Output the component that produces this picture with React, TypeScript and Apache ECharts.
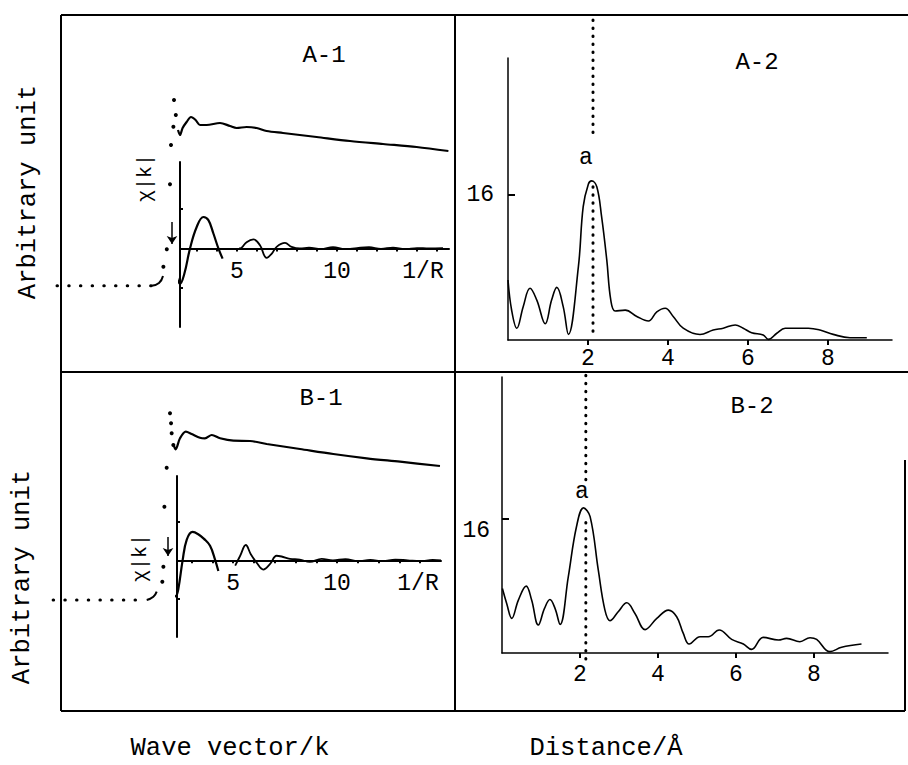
import React, { useEffect, useRef } from 'react';
import * as echarts from 'echarts';

const FONT = '"Liberation Mono", "DejaVu Sans Mono", monospace';

// ---------- A-1 (wave vector, k units) ----------
const a1Absorption = [[2.05, 20.0], [2.15, 19.5], [2.28, 20.2], [2.48, 20.8], [2.7, 21.3], [2.93, 21.0], [3.15, 20.5], [3.48, 20.5], [4.15, 20.7], [4.65, 20.4], [4.98, 20.2], [5.48, 20.3], [5.98, 20.2], [6.48, 19.9], [7.3, 19.7], [8.98, 19.3], [10.65, 18.9], [12.3, 18.6], [13.98, 18.3], [15.57, 17.9]];
const a1PreEdge = [[-4, 4.43], [0.73, 4.43]];
const a1Hook = [[0.73, 4.43], [1.1, 4.7], [1.3, 5.4]];
const a1EdgeDots = [[1.32, 6.33], [1.49, 8.07], [1.65, 14.57], [1.7, 18.5], [1.82, 20.33], [1.94, 21.5], [1.85, 23.0]];
const a1Arrow = [[1.75, 10.8], [1.75, 8.6]];
const a1ChiMain = [[1.7, 0], [1.82, -0.19], [1.98, -0.36], [2.15, -0.45], [2.37, -0.32], [2.65, 0], [2.98, 0.27], [3.32, 0.4], [3.57, 0.36], [3.82, 0.19], [4.07, 0], [4.28, -0.13]];
const a1ChiTail = [[5.1, 0], [5.23, 0.01], [5.48, 0.08], [5.82, 0.115], [6.15, 0.04], [6.48, -0.12], [6.73, -0.07], [6.98, 0.02], [7.4, 0.07], [7.73, 0.02], [8.15, 0], [8.6, 0.01], [9.2, -0.01], [9.8, 0.015], [10.4, -0.01], [11, 0.005], [11.6, 0.015], [12.2, -0.005], [12.8, 0.01], [13.4, -0.01], [14, 0.005], [14.6, 0], [15.3, 0.005]];

// ---------- B-1 ----------
const b1Absorption = [[2.16, 22.4], [2.24, 22.07], [2.45, 23.17], [2.73, 23.83], [3.01, 23.6], [3.41, 23.23], [3.65, 23.17], [3.98, 23.5], [4.38, 23.17], [5.02, 22.93], [5.82, 22.9], [6.62, 22.6], [8.22, 22.1], [9.82, 21.6], [11.43, 21.17], [13.03, 20.83], [14.95, 20.4]];
const b1PreEdge = [[-3.65, 7.0], [0.85, 7.0]];
const b1Hook = [[0.85, 7.0], [1.17, 7.33], [1.33, 7.83]];
const b1EdgeDots = [[1.6, 8.83], [1.65, 10.33], [1.7, 16.33], [1.81, 20.23], [2.13, 22.5], [2.05, 23.67], [2.02, 24.67], [1.97, 25.67]];
const b1Arrow = [[1.875, 13.3], [1.875, 11.4]];
const b1ChiMain = [[1.88, -0.01], [2.0, -0.25], [2.12, -0.42], [2.24, -0.47], [2.36, -0.38], [2.57, 0], [2.77, 0.27], [3.05, 0.37], [3.32, 0.34], [3.6, 0.28], [3.89, 0.19], [4.13, 0.01], [4.29, -0.14]];
const b1ChiTail = [[5.1, -0.07], [5.34, 0.06], [5.61, 0.2], [5.85, 0.08], [6.13, -0.03], [6.45, -0.12], [6.77, -0.05], [7.09, 0.06], [7.33, 0.05], [7.73, 0.02], [8.21, 0.01], [8.69, -0.02], [9.26, 0.02], [9.8, 0], [10.4, 0.015], [11, -0.01], [11.6, 0.005], [12.2, -0.01], [12.8, 0.01], [13.4, 0], [14, -0.01], [14.6, 0.005], [15, 0]];

// ---------- A-2 (distance, Å) ----------
const a2Rdf = [[0, 6.62], [0.09, 3.31], [0.22, 1.29], [0.38, 3.68], [0.55, 5.7], [0.72, 4.4], [0.93, 1.8], [1.09, 4.4], [1.22, 5.8], [1.38, 3.68], [1.51, 0.62], [1.76, 8.1], [1.88, 14.7], [2.01, 17.2], [2.09, 17.55], [2.22, 16.9], [2.34, 13.6], [2.47, 8.8], [2.57, 4.4], [2.68, 3.2], [2.93, 3.3], [3.22, 2.6], [3.51, 2.1], [3.72, 3.1], [3.93, 3.5], [4.13, 2.6], [4.38, 1.3], [4.8, 0.6], [5.13, 1.1], [5.38, 1.3], [5.68, 1.66], [5.88, 1.3], [6.09, 0.8], [6.38, 0.55], [6.51, 0.07], [6.72, 0.74], [6.93, 1.3], [7.51, 1.3], [7.8, 1.1], [8.13, 0.62], [8.55, 0.25], [8.97, 0.25]];
const a2Marker = [[2.125, 35.3], [2.125, 22.4], null, [2.125, 16.9], [2.125, 0.3]];
const a2PeakLabel = [[1.95, 20.1]];

// ---------- B-2 ----------
const b2Rdf = [[0.01, 7.72], [0.12, 5.93], [0.25, 4.14], [0.42, 6.33], [0.62, 8.0], [0.76, 6.33], [0.93, 3.34], [1.09, 5.33], [1.23, 6.4], [1.36, 5.33], [1.49, 3.42], [1.7, 9.1], [1.91, 15.1], [2.09, 17.35], [2.26, 16.3], [2.47, 9.9], [2.64, 5.13], [2.77, 3.86], [2.98, 4.93], [3.2, 6.0], [3.41, 4.73], [3.67, 2.8], [3.97, 4.14], [4.27, 5.13], [4.48, 4.33], [4.65, 2.34], [4.8, 1.07], [5.08, 1.95], [5.29, 1.95], [5.57, 2.75], [5.89, 1.63], [6.19, 1.07], [6.4, 0.43], [6.7, 1.87], [7.09, 1.55], [7.3, 1.75], [7.64, 1.35], [7.9, 1.83], [8.07, 1.63], [8.41, 0.16], [8.71, 0.68], [9.22, 1.07]];
const b2Marker = [[2.15, 33.2], [2.15, 20.7], null, [2.15, 15.6], [2.15, -0.84]];
const b2PeakLabel = [[2.05, 19.2]];

const chiLabels = [5, 10];
const chiTicksA = [3, 4, 5, 6, 7, 8, 9, 10, 11, 12, 13, 14, 15];
const chiTicksB = [3, 4, 5, 6, 7, 8, 9, 10, 11, 12, 13, 14];
const rLabels = [2, 4, 6, 8];
const rY = [16];

const BLACK = '#000';

function hiddenAxis(gridIndex: number, min: number, max: number) {
  return { type: 'value', gridIndex, min, max, show: false, splitLine: { show: false } };
}

// the χ(k) axis sits at χ = 0, lifted from the grid bottom by `lift` pixels
function chiX(gridIndex: number, min: number, max: number, ticks: number[], gap: number, lift: number) {
  return {
    type: 'value', gridIndex, min, max, position: 'bottom', offset: -lift,
    axisLine: { show: true, onZero: false, lineStyle: { color: BLACK, width: 2 } },
    axisTick: { show: true, customValues: ticks, length: 3, lineStyle: { color: BLACK, width: 2 } },
    axisLabel: { show: true, customValues: chiLabels, margin: 12, color: BLACK, fontFamily: FONT, fontSize: 23 },
    splitLine: { show: false },
    name: '1/R', nameLocation: 'end', nameGap: gap,
    nameTextStyle: { color: BLACK, fontFamily: FONT, fontSize: 23, align: 'center', verticalAlign: 'top', padding: [12, 0, 0, 0] },
  };
}

function chiY(gridIndex: number) {
  return {
    type: 'value', gridIndex, min: -1, max: 1.1,
    axisLine: { show: true, onZero: false, lineStyle: { color: BLACK, width: 2 } },
    axisTick: { show: true, inside: true, customValues: [-0.5, 0.5], length: 3, lineStyle: { color: BLACK, width: 2 } },
    axisLabel: { show: false },
    splitLine: { show: false },
  };
}

function rX(gridIndex: number, max: number, margin: number) {
  return {
    type: 'value', gridIndex, min: 0, max,
    axisLine: { show: true, onZero: false, lineStyle: { color: BLACK, width: 1.5 } },
    axisTick: { show: true, customValues: rLabels, length: 5, lineStyle: { color: BLACK, width: 2 } },
    axisLabel: { show: true, customValues: rLabels, margin, color: BLACK, fontFamily: FONT, fontSize: 23 },
    splitLine: { show: false },
  };
}

function rYAxis(gridIndex: number, max: number, margin: number, vAlign: string, pad: number[]) {
  return {
    type: 'value', gridIndex, min: 0, max,
    axisLine: { show: true, onZero: false, lineStyle: { color: BLACK, width: 1.5 } },
    axisTick: { show: true, inside: true, customValues: rY, length: 7, lineStyle: { color: BLACK, width: 2 } },
    axisLabel: { show: true, customValues: rY, margin, color: BLACK, fontFamily: FONT, fontSize: 23, verticalAlign: vAlign, padding: pad },
    splitLine: { show: false },
  };
}

function lineSeries(gi: number, data: any[], width: number, smooth: number | boolean, extra: any = {}) {
  return {
    type: 'line', xAxisIndex: gi, yAxisIndex: gi, data, symbol: 'none', smooth, clip: false,
    silent: true, connectNulls: false,
    lineStyle: { color: BLACK, width, ...(extra.lineStyle || {}) },
  };
}

function dotSeries(gi: number, data: any[], arrow: number[][]) {
  return {
    type: 'scatter', xAxisIndex: gi, yAxisIndex: gi, data, symbol: 'circle', symbolSize: 4,
    itemStyle: { color: BLACK, opacity: 1 }, silent: true, clip: false,
    markLine: {
      silent: true, symbol: ['none', 'arrow'], symbolSize: 8, animation: false,
      lineStyle: { color: BLACK, width: 1.5, type: 'solid' }, label: { show: false },
      data: [[{ coord: arrow[0] }, { coord: arrow[1] }]],
    },
  };
}

function labelSeries(gi: number, data: any[]) {
  return {
    type: 'scatter', xAxisIndex: gi, yAxisIndex: gi, data, symbolSize: 1, silent: true, clip: false,
    itemStyle: { color: BLACK, opacity: 1 },
    label: { show: true, position: 'inside', formatter: 'a', color: BLACK, opacity: 1, fontFamily: FONT, fontSize: 23, textBorderWidth: 0 },
  };
}

const textEl = (text: string, x: number, y: number, size: number, rotation = 0) => ({
  type: 'text', x, y, rotation, silent: true,
  style: { text, fill: BLACK, font: `${size}px ${FONT}`, textAlign: 'center', textVerticalAlign: 'middle', align: 'center', verticalAlign: 'middle' },
});
const lineEl = (x1: number, y1: number, x2: number, y2: number) => ({
  type: 'line', silent: true, shape: { x1, y1, x2, y2 }, style: { stroke: BLACK, lineWidth: 2 },
});

const option: any = {
  animation: false,
  backgroundColor: '#fff',
  grid: [
    { left: 57, top: 40, width: 392, height: 290 },
    { left: 180, top: 162, width: 269, height: 165 },
    { left: 50, top: 380, width: 391, height: 290 },
    { left: 177, top: 476, width: 264, height: 161 },
    { left: 508, top: 58, width: 384, height: 282 },
    { left: 502, top: 377, width: 386, height: 276 },
  ],
  xAxis: [
    hiddenAxis(0, -4, 15.6),
    chiX(1, 2.15, 15.6, chiTicksA, -26, 78.6),
    hiddenAxis(2, -3.8, 15),
    chiX(3, 2.3, 15, chiTicksB, -23, 76.7),
    rX(4, 9.6, 7),
    rX(5, 9.9, 10),
  ],
  yAxis: [
    hiddenAxis(0, 0, 29),
    chiY(1),
    hiddenAxis(2, 0, 29),
    chiY(3),
    rYAxis(4, 31.1, 14, 'middle', [10, 0, 0, 0]),
    rYAxis(5, 33, 12, 'top', [0, 0, 0, 0]),
  ],
  series: [
    lineSeries(0, a1Absorption, 2.2, 0.3),
    lineSeries(0, a1PreEdge, 3, false, { lineStyle: { type: [0.5, 11.2], cap: 'round' } }),
    lineSeries(0, a1Hook, 2, 0.5),
    dotSeries(0, a1EdgeDots, a1Arrow),
    lineSeries(1, a1ChiMain, 2.2, 0.4),
    lineSeries(1, a1ChiTail, 1.8, 0.4),
    lineSeries(2, b1Absorption, 2.2, 0.3),
    lineSeries(2, b1PreEdge, 3, false, { lineStyle: { type: [0.5, 11.2], cap: 'round' } }),
    lineSeries(2, b1Hook, 2, 0.5),
    dotSeries(2, b1EdgeDots, b1Arrow),
    lineSeries(3, b1ChiMain, 2.2, 0.4),
    lineSeries(3, b1ChiTail, 1.8, 0.4),
    lineSeries(4, a2Rdf, 1.6, 0.4),
    lineSeries(4, a2Marker, 3, false, { lineStyle: { type: [0.5, 7.5], cap: 'round' } }),
    labelSeries(4, a2PeakLabel),
    lineSeries(5, b2Rdf, 1.6, 0.4),
    lineSeries(5, b2Marker, 3, false, { lineStyle: { type: [0.5, 7.5], cap: 'round' } }),
    labelSeries(5, b2PeakLabel),
  ],
  graphic: [
    lineEl(61, 15, 908, 15),
    lineEl(61, 15, 61, 711),
    lineEl(61, 711, 905, 711),
    lineEl(455, 15, 455, 711),
    lineEl(61, 372, 908, 372),
    lineEl(905, 460, 905, 711),
    textEl('A-1', 324, 55, 24),
    textEl('B-1', 321, 398, 24),
    textEl('A-2', 757, 62, 24),
    textEl('B-2', 752, 406, 24),
    textEl('Arbitrary unit', 28, 192, 25.5, Math.PI / 2),
    textEl('Arbitrary unit', 22, 577, 25.5, Math.PI / 2),
    textEl('χ|k|', 145, 178, 20, Math.PI / 2),
    textEl('χ|k|', 140, 558, 20, Math.PI / 2),
    textEl('Wave vector/k', 230, 748, 25.5),
    textEl('Distance/Å', 606, 748, 25.5),
  ],
};

export default function App() {
  const ref = useRef<HTMLDivElement>(null);
  useEffect(() => {
    const chart = echarts.init(ref.current!, null, { renderer: 'svg' });
    chart.setOption(option);
    return () => chart.dispose();
  }, []);
  return <div ref={ref} style={{ position: 'fixed', left: 0, top: 0, width: 908, height: 765 }} />;
}
